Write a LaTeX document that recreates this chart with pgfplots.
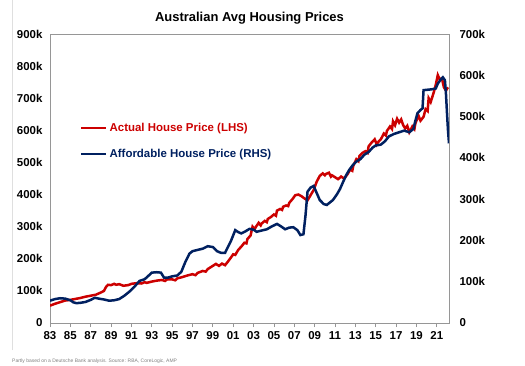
\documentclass[border=0pt]{standalone}
\usepackage{pgfplots}
\pgfplotsset{compat=1.18}
\usepackage{fontspec}
\setmainfont{Liberation Sans}
\definecolor{lhsred}{RGB}{204,0,0}
\definecolor{rhsblue}{RGB}{0,32,96}
\definecolor{framegray}{RGB}{150,150,150}
\begin{document}
\begin{tikzpicture}
\path[use as bounding box] (-50bp,-43bp) rectangle (475bp,323bp);
\draw[gray!25, line width=0.8bp] (-38bp,-27bp) -- (-38bp,323bp);
\begin{axis}[
  scale only axis, width=399bp, height=289bp,
  xmin=1983, xmax=2022.2, ymin=0, ymax=900,
  axis line style={framegray, line width=0.8bp},
  xtick={1983,1985,...,2021},
  xticklabels={83,85,87,89,91,93,95,97,99,01,03,05,07,09,11,13,15,17,19,21},
  xtick pos=bottom, xtick align=outside, major tick length=4bp,
  xtick style={framegray, line width=0.8bp},
  ytick={0,100,...,900},
  yticklabels={0,100k,200k,300k,400k,500k,600k,700k,800k,900k},
  ytick style={draw=none},
  ticklabel style={font=\fontsize{11.5}{13}\selectfont\bfseries},
  yticklabel style={xshift=-4bp},
  xticklabel style={yshift=-1bp},
  /pgf/number format/assume math mode=true,
  title={Australian Avg Housing Prices},
  title style={font=\fontsize{13}{15}\selectfont\bfseries, yshift=0bp},
  legend style={draw=none, fill=none, at={(0.075,0.70)}, anchor=north west,
    font=\fontsize{11.5}{13}\selectfont\bfseries, row sep=12.5bp, inner sep=0pt},
  legend cell align=left,
  legend image code/.code={\draw[#1] (0bp,0bp) -- (25bp,0bp);},
]
\addplot[lhsred, line width=2.5bp] table {
1983.0 54
1983.5 60
1984.0 65
1984.5 70
1985.0 72
1985.5 75
1986.0 78
1986.5 82
1987.0 85
1987.5 88
1988.0 95
1988.3 100
1988.5 112
1988.7 119
1989.0 118
1989.3 122
1989.5 119
1989.8 121
1990.2 116
1990.7 118
1991.0 122
1991.5 124
1992.0 123
1992.3 127
1992.5 125
1993.0 129
1993.5 132
1994.0 134
1994.3 131
1994.5 136
1995.0 136
1995.3 133
1995.5 139
1996.0 143
1996.5 148
1997.0 152
1997.3 149
1997.5 156
1998.0 162
1998.3 160
1998.5 168
1999.0 178
1999.3 184
1999.6 178
1999.9 185
2000.2 180
2000.5 192
2000.8 205
2001.0 214
2001.2 212
2001.5 228
2001.8 238
2002.1 250
2002.3 248
2002.4 262
2002.7 272
2002.9 300
2003.1 292
2003.2 298
2003.5 312
2003.7 304
2003.8 310
2004.1 318
2004.3 314
2004.4 324
2004.7 330
2005.0 338
2005.2 334
2005.3 350
2005.6 355
2005.8 352
2005.9 362
2006.2 366
2006.4 364
2006.5 374
2006.8 385
2007.1 398
2007.4 400
2007.7 395
2008.0 388
2008.3 382
2008.6 398
2008.9 414
2009.2 440
2009.5 458
2009.8 466
2010.0 460
2010.1 464
2010.4 468
2010.6 456
2010.7 460
2011.0 454
2011.3 448
2011.6 456
2011.9 450
2012.2 462
2012.5 478
2012.7 474
2012.8 490
2013.1 510
2013.3 504
2013.4 520
2013.7 530
2014.0 535
2014.2 530
2014.3 550
2014.6 562
2014.9 572
2015.1 556
2015.2 562
2015.5 572
2015.8 590
2016.0 584
2016.1 598
2016.4 612
2016.6 604
2016.7 628
2016.9 616
2017.1 636
2017.3 624
2017.5 634
2017.7 616
2017.9 606
2018.1 614
2018.3 594
2018.6 612
2018.8 604
2018.9 622
2019.2 646
2019.4 630
2019.7 642
2019.9 666
2020.1 660
2020.2 700
2020.4 688
2020.7 718
2020.9 742
2021.1 772
2021.3 758
2021.5 762
2021.7 734
2021.9 724
2022.1 734
};
\addlegendentry{\textcolor{lhsred}{Actual House Price (LHS)}}
\addlegendimage{rhsblue, line width=2.5bp}
\addlegendentry{\textcolor{rhsblue}{Affordable House Price (RHS)}}
\end{axis}
\begin{axis}[
  scale only axis, width=399bp, height=289bp,
  xmin=1983, xmax=2022.2, ymin=0, ymax=700,
  axis x line=none, axis y line*=right,
  y axis line style={draw=none},
  ytick={0,100,...,700},
  yticklabels={0,100k,200k,300k,400k,500k,600k,700k},
  ytick style={draw=none},
  ticklabel style={font=\fontsize{11.5}{13}\selectfont\bfseries},
  yticklabel style={xshift=7bp},
  /pgf/number format/assume math mode=true,
]
\addplot[rhsblue, line width=2.5bp] table {
1983.0 54
1983.5 58
1984.0 60
1984.5 59
1985.0 55
1985.3 50
1985.6 48
1986.0 49
1986.5 51
1987.0 56
1987.4 61
1987.8 59
1988.3 57
1988.8 54
1989.3 55
1989.8 58
1990.3 66
1990.8 76
1991.3 88
1991.8 102
1992.3 106
1992.7 115
1993.0 122
1993.5 123
1993.9 122
1994.2 110
1994.6 110
1995.0 113
1995.5 115
1995.9 124
1996.3 148
1996.7 168
1997.0 174
1997.5 177
1998.0 180
1998.5 186
1999.0 184
1999.4 174
1999.8 170
2000.2 170
2000.5 185
2000.8 200
2001.2 225
2001.5 220
2001.8 217
2002.2 222
2002.6 228
2003.0 226
2003.3 221
2003.8 224
2004.3 227
2004.8 234
2005.3 240
2005.7 234
2006.1 227
2006.5 231
2006.9 232
2007.3 225
2007.6 213
2007.9 215
2008.1 260
2008.3 318
2008.6 328
2008.9 332
2009.2 315
2009.5 298
2009.9 288
2010.2 286
2010.5 292
2010.8 298
2011.2 312
2011.5 325
2011.8 342
2012.1 358
2012.4 371
2012.8 384
2013.1 391
2013.5 397
2013.9 408
2014.3 414
2014.7 425
2015.0 430
2015.5 432
2015.9 440
2016.3 452
2016.8 458
2017.3 462
2017.8 466
2018.3 462
2018.7 470
2018.9 490
2019.1 508
2019.4 516
2019.6 520
2019.7 564
2020.5 566
2020.9 568
2021.1 580
2021.4 590
2021.6 595
2021.8 588
2021.9 556
2022.0 510
2022.1 467
2022.2 435
};
\end{axis}
\node[anchor=west, text=gray, font=\fontsize{5}{6}\selectfont, inner sep=0pt] at (-38bp,-38bp) {Partly based on a Deutsche Bank analysis. Source: RBA, CoreLogic, AMP};
\end{tikzpicture}
\end{document}
